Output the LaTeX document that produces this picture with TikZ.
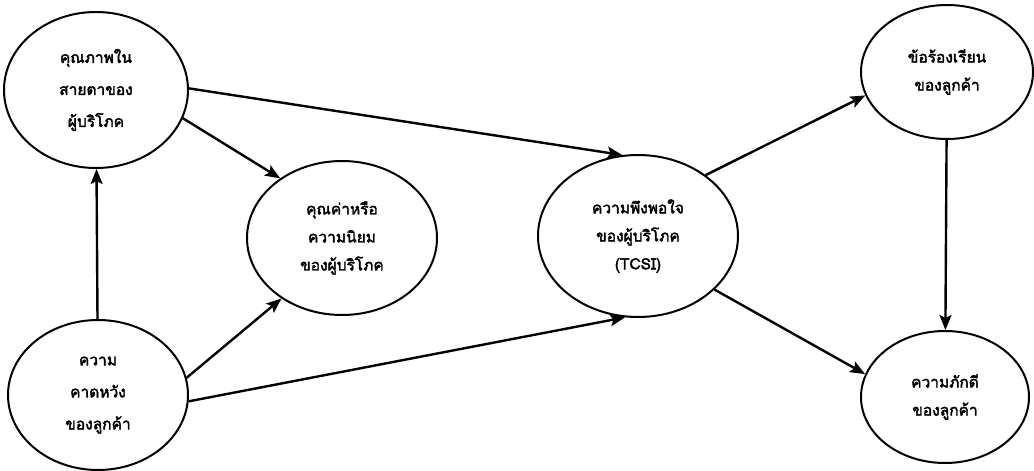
\documentclass[tikz,border=0pt]{standalone}
\usepackage{fontspec}
\newfontfamily\thaifont[Script=Thai,AutoFakeBold=2.5]{Loma}
\usetikzlibrary{shapes.geometric,arrows.meta}
\begin{document}
\begin{tikzpicture}[x=1pt,y=-1pt,
  ell/.style={draw, line width=2pt, ellipse, inner sep=0pt, align=center,
    font=\thaifont\bfseries\fontsize{15.5}{28}\selectfont},
  wide/.style={font=\thaifont\bfseries\fontsize{15.5}{32}\selectfont},
  arr/.style={line width=2.4pt, -{Stealth[length=15pt,width=12pt,inset=3pt]}}]
\useasboundingbox (0,0) rectangle (1034,471);
\node[ell, wide, minimum width=184pt, minimum height=156pt] (qual) at (96,90) {คุณภาพใน\\สายตาของ\\ผู้บริโภค};
\node[ell, wide, minimum width=180pt, minimum height=150pt] (expt) at (98,395) {ความ\\คาดหวัง\\ของลูกค้า};
\node[ell, minimum width=190pt, minimum height=154pt] (valu) at (342,238) {คุณค่าหรือ\\ความนิยม\\ของผู้บริโภค};
\node[ell, minimum width=200pt, minimum height=162pt] (sati) at (638,236) {ความพึงพอใจ\\ของผู้บริโภค\\(TCSI)};
\node[ell, minimum width=172pt, minimum height=134pt] (comp) at (947,72) {ข้อร้องเรียน\\ของลูกค้า};
\node[ell, minimum width=168pt, minimum height=132pt] (loya) at (945,397) {ความภักดี\\ของลูกค้า};

\draw[arr] (expt) -- (qual);
\draw[arr] (qual.1) -- (sati.101);
\draw[arr] (qual.-18) -- (valu.136);
\draw[arr] (expt.11) -- (valu.225);
\draw[arr] (expt.-4) -- (sati.261);
\draw[arr] (sati.42) -- (comp.196);
\draw[arr] (sati.-35) -- (loya.164);
\draw[arr] (comp) -- (loya);
\end{tikzpicture}
\end{document}
